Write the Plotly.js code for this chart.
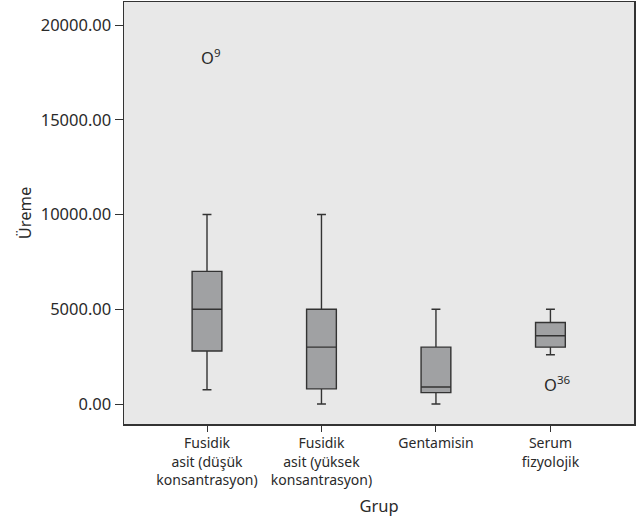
<!DOCTYPE html>
<html>
<head>
<meta charset="utf-8">
<script src="https://cdn.plot.ly/plotly-3.0.1.min.js"></script>
<style>html,body{margin:0;padding:0;background:#fff;}#chart{width:640px;height:521px;}</style>
</head>
<body>
<div id="chart"></div>
<script>
const categories = ["Fusidik<br>asit (düşük<br>konsantrasyon)", "Fusidik<br>asit (yüksek<br>konsantrasyon)", "Gentamisin", "Serum<br>fizyolojik"];
const lowerWhisker = [750, 0, 0, 2600];
const q1Values = [2800, 800, 600, 3000];
const medianValues = [5000, 3000, 900, 3600];
const q3Values = [7000, 5000, 3000, 4300];
const upperWhisker = [10000, 10000, 5000, 5000];
const outlierCategory = [categories[0], categories[3]];
const outlierValues = [18200, 950];
const outlierLabels = ["O<sup>9</sup>", "O<sup>36</sup>"];

const font = "Noto Sans, Open Sans, sans-serif";
const textColor = '#2a2a2a';

const boxTrace = {
  type: 'box',
  x: categories,
  q1: q1Values,
  median: medianValues,
  q3: q3Values,
  lowerfence: lowerWhisker,
  upperfence: upperWhisker,
  fillcolor: '#a0a1a3',
  line: {color: '#333333', width: 1.4},
  width: 0.26,
  whiskerwidth: 0.3,
  boxpoints: false,
  hoverinfo: 'skip',
  showlegend: false
};

const annotations = outlierCategory.map((c, i) => ({
  x: c, y: outlierValues[i], xref: 'x', yref: 'y',
  text: outlierLabels[i], showarrow: false,
  xanchor: 'left', yanchor: 'middle', xshift: -8, yshift: 2,
  font: {family: font, size: 16.5, color: textColor}
}));

const layout = {
  width: 640,
  height: 521,
  margin: {l: 124, r: 6, t: 2, b: 97},
  paper_bgcolor: '#ffffff',
  plot_bgcolor: '#e8e8e8',
  font: {family: font, size: 14, color: textColor},
  showlegend: false,
  annotations: annotations,
  xaxis: {
    type: 'category',
    range: [-0.725, 3.73],
    tickangle: 0,
    showline: true, mirror: true, linecolor: '#333333', linewidth: 1.5,
    showgrid: false, zeroline: false,
    ticks: 'outside', ticklen: 6, tickcolor: '#333333',
    tickfont: {family: font, size: 14, color: textColor},
    title: {text: 'Grup', font: {family: font, size: 16.5, color: textColor}, standoff: 12}
  },
  yaxis: {
    range: [-1055, 21214],
    dtick: 5000, tick0: 0,
    tickformat: '.2f',
    tickangle: 0,
    showline: true, mirror: true, linecolor: '#333333', linewidth: 1.5,
    showgrid: false, zeroline: false,
    ticks: 'outside', ticklen: 8, tickcolor: '#333333',
    tickfont: {family: font, size: 16.5, color: textColor},
    title: {text: 'Üreme', font: {family: font, size: 16.5, color: textColor}, standoff: 5}
  }
};

Plotly.newPlot('chart', [boxTrace], layout, {displayModeBar: false, staticPlot: true});
</script>
</body>
</html>
